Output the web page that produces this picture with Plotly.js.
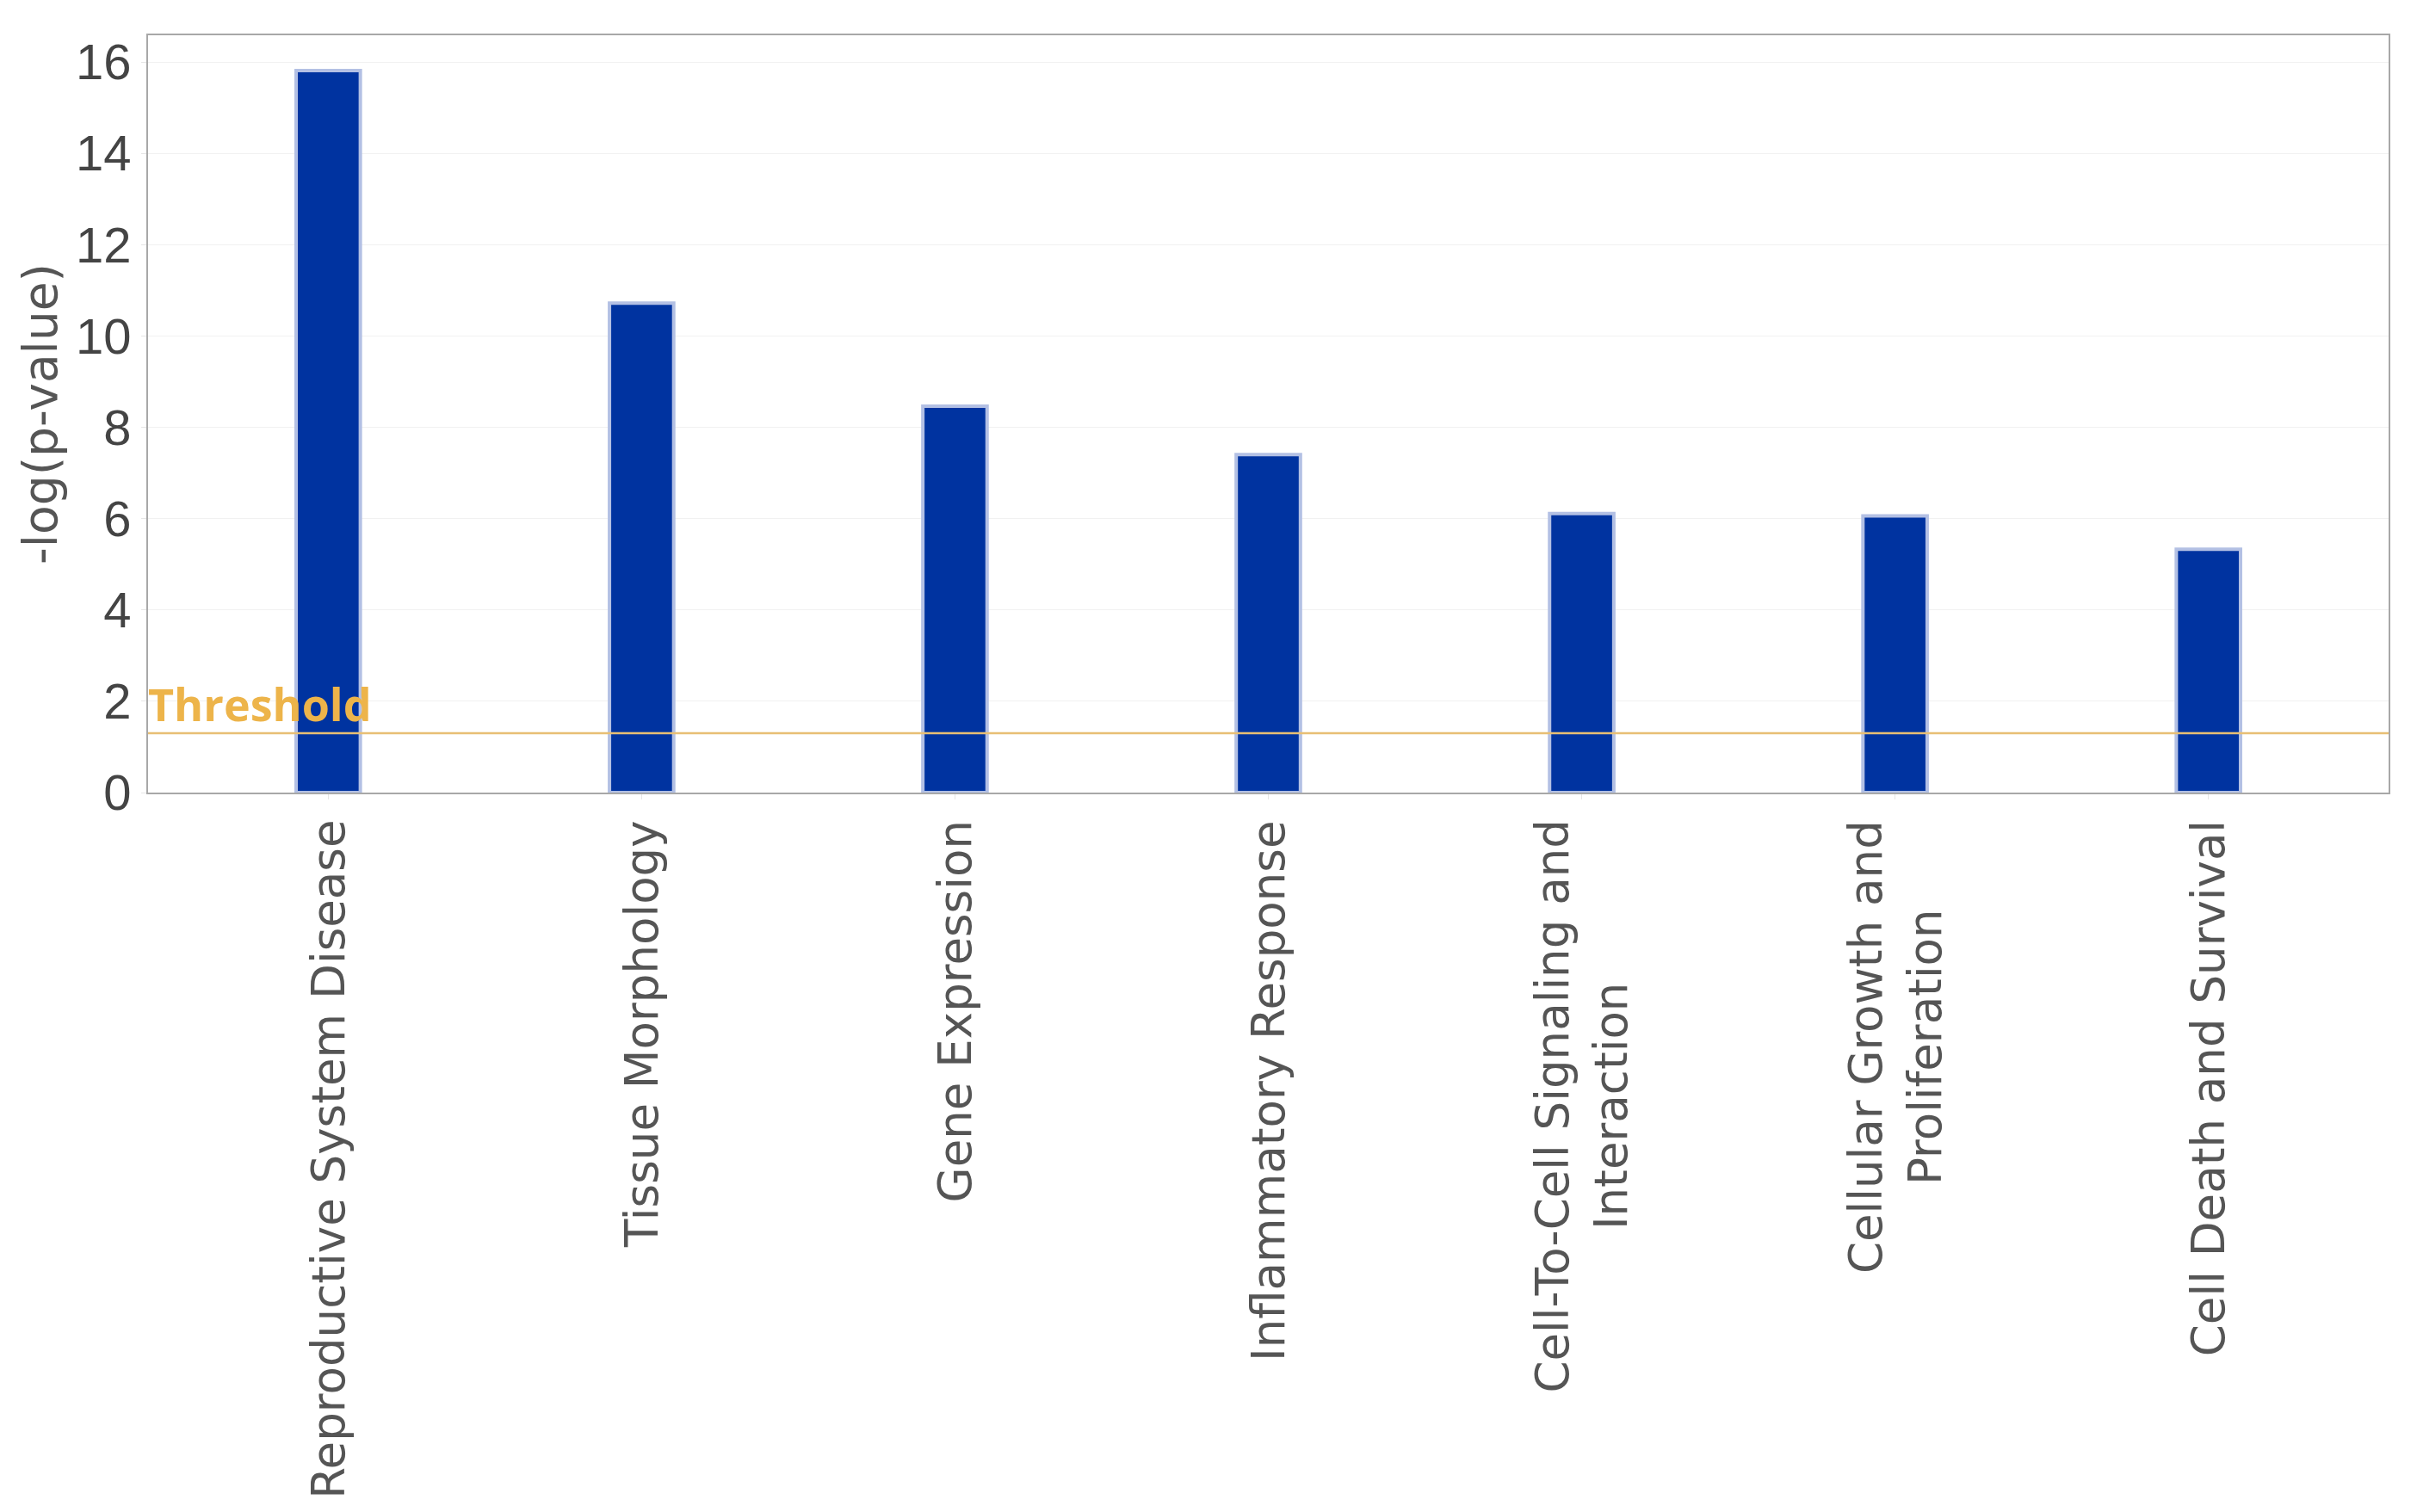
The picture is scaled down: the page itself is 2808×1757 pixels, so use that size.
<!DOCTYPE html>
<html>
<head>
<meta charset="utf-8">
<script src="https://cdn.plot.ly/plotly-3.0.1.min.js"></script>
<style>html,body{margin:0;padding:0;background:#fff;}#chart{width:2808px;height:1757px;}</style>
</head>
<body>
<div id="chart"></div>
<script>
// Data
const categories = [
  "Reproductive System Disease",
  "Tissue Morphology",
  "Gene Expression",
  "Inflammatory Response",
  "Cell-To-Cell Signaling and<br>Interaction",
  "Cellular Growth and<br>Proliferation",
  "Cell Death and Survival"
];
const negLogP = [15.81, 10.72, 8.46, 7.40, 6.11, 6.06, 5.33];
const thresholdValue = 1.3;
const thresholdLabel = "Threshold";
const yTicks = [0, 2, 4, 6, 8, 10, 12, 14, 16];
const yTitle = "-log(p-value)";

const FONT = "Liberation Sans, Arial, sans-serif";
const LABEL_FONT = "DejaVu Sans, sans-serif";

const trace = {
  type: "bar",
  x: categories,
  y: negLogP,
  width: 0.205,
  marker: {color: "#0033A0", line: {color: "#B3C0E4", width: 4}},
  hoverinfo: "x+y"
};

const labelAnnotations = categories.map(c => ({
  x: c, xref: "x", y: 0, yref: "paper",
  yshift: -30, xanchor: "center", yanchor: "top",
  textangle: -90, align: "center", showarrow: false,
  text: c, font: {family: LABEL_FONT, size: 53, color: "#555555"}
}));

const layout = {
  width: 2808, height: 1757,
  margin: {l: 172, r: 33, t: 41, b: 836},
  paper_bgcolor: "#ffffff", plot_bgcolor: "#ffffff",
  showlegend: false,
  bargap: 0,
  xaxis: {
    type: "category",
    range: [-0.575, 6.575],
    showticklabels: false,
    ticks: "outside", ticklen: 6, tickcolor: "#e6e6e6",
    showgrid: false,
    showline: true, linecolor: "#a8a8a8", linewidth: 2, mirror: true,
    zeroline: false
  },
  yaxis: {
    range: [0, 16.585],
    tickvals: yTicks,
    ticktext: yTicks.map(String),
    ticks: "outside", ticklen: 6, tickcolor: "#e6e6e6",
    tickfont: {family: FONT, size: 58, color: "#444444"},
    showgrid: true, gridcolor: "#f1f1f1", gridwidth: 1,
    showline: true, linecolor: "#a8a8a8", linewidth: 2, mirror: true,
    zeroline: false,
    automargin: false,
    title: {text: yTitle, font: {family: LABEL_FONT, size: 55, color: "#555555"}, standoff: 4}
  },
  shapes: [{
    type: "line", xref: "paper", x0: 0, x1: 1,
    yref: "y", y0: thresholdValue, y1: thresholdValue,
    line: {color: "#E8BF74", width: 2.5}, layer: "above"
  }],
  annotations: labelAnnotations.concat([{
    xref: "paper", x: 0, xanchor: "left", xshift: -2,
    yref: "y", y: thresholdValue, yanchor: "bottom", yshift: -3,
    text: "<b>" + thresholdLabel + "</b>", showarrow: false,
    font: {family: "Open Sans, sans-serif", size: 52, color: "#EDB44A"}
  }])
};

Plotly.newPlot("chart", [trace], layout, {displayModeBar: false, staticPlot: true});
</script>
</body>
</html>
